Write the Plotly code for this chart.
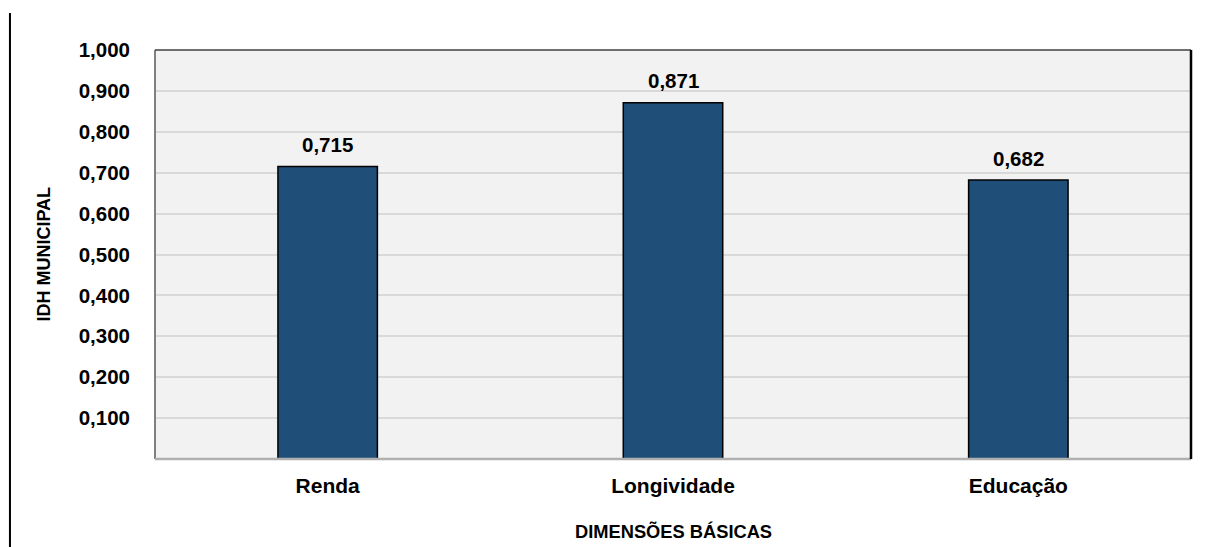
import plotly.graph_objects as go

categorias = ["Renda", "Longividade", "Educação"]
valores = [0.715, 0.871, 0.682]
ticks_y = [0.1, 0.2, 0.3, 0.4, 0.5, 0.6, 0.7, 0.8, 0.9, 1.0]

FONT = "Liberation Sans, Arial, sans-serif"

fig = go.Figure()
fig.add_trace(go.Bar(
    x=categorias, y=valores, width=0.288,
    marker=dict(color="#1F4E79", line=dict(color="#000000", width=1.5)),
    hoverinfo="skip",
))

for c, v in zip(categorias, valores):
    fig.add_annotation(x=c, y=v, xref="x", yref="y", text=f"{v:.3f}".replace(".", ","),
                       showarrow=False, yshift=22, yanchor="middle",
                       font=dict(family=FONT, size=20.5, color="#000000", weight="bold"))

fig.add_annotation(text="DIMENSÕES BÁSICAS", xref="paper", yref="paper", x=0.5, y=-0.178,
                   yanchor="middle", showarrow=False,
                   font=dict(family=FONT, size=18.3, color="#000000", weight="bold"))
fig.add_annotation(text="IDH MUNICIPAL", xref="paper", yref="paper", x=-0.108, y=0.5,
                   textangle=-90, xanchor="center", showarrow=False,
                   font=dict(family=FONT, size=18, color="#000000", weight="bold"))

# frame lines
fig.add_shape(type="line", xref="paper", yref="paper", x0=0, x1=0, y0=0, y1=1,
              line=dict(color="#808080", width=2))
fig.add_shape(type="line", xref="paper", yref="paper", x0=0, x1=1, y0=0, y1=0,
              line=dict(color="#b0b0b0", width=2.5))
fig.add_shape(type="line", xref="paper", yref="paper", x0=0, x1=1, y0=1, y1=1,
              line=dict(color="#404040", width=1.5))
fig.add_shape(type="line", xref="paper", yref="paper", x0=1, x1=1, y0=0, y1=1,
              line=dict(color="#000000", width=2.5))
# left page border line
fig.add_shape(type="line", xref="paper", yref="paper", x0=-0.1400, x1=-0.1400, y0=-0.215, y1=1.0905,
              line=dict(color="#000000", width=2))

fig.update_layout(
    width=1206, height=547,
    margin=dict(l=155, r=15, t=50, b=88),
    paper_bgcolor="#ffffff", plot_bgcolor="#f2f2f2",
    separators=",.",
    showlegend=False,
    font=dict(family=FONT, color="#000000"),
    xaxis=dict(showgrid=False, showline=False, ticks="",
               tickfont=dict(size=21, family=FONT, weight="bold"),
               ticklabelstandoff=12),
    yaxis=dict(range=[0, 1.0], tickvals=ticks_y, tickformat=".3f", showline=False,
               gridcolor="#d9d9d9", gridwidth=1.5, zeroline=False,
               tickfont=dict(size=20.5, family=FONT, weight="bold"), ticks="", ticklabelstandoff=24),
)

fig.write_html("out.html")
